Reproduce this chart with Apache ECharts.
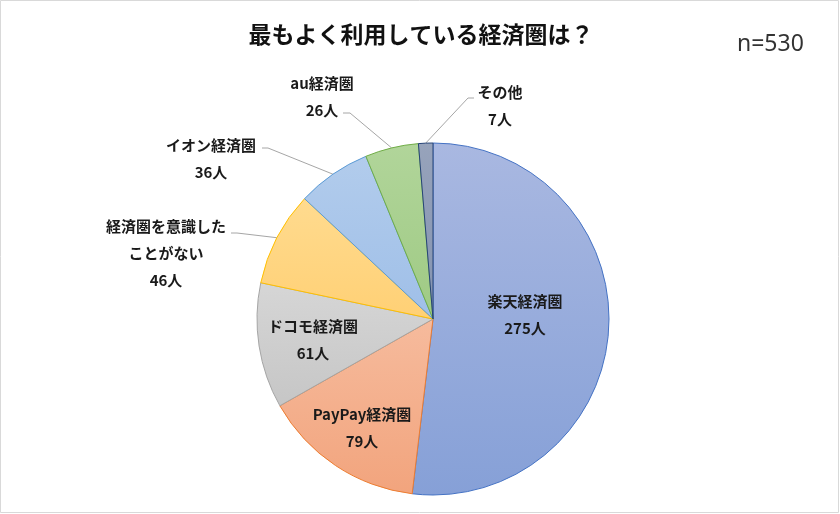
<!DOCTYPE html>
<html><head><meta charset="utf-8">
<script src="https://cdn.jsdelivr.net/npm/echarts@6/dist/echarts.min.js"></script>
<style>html,body{margin:0;padding:0;background:#fff}#c{width:840px;height:514px}</style>
</head><body><div id="c"></div>
<script>
const categories = ['楽天経済圏','PayPay経済圏','ドコモ経済圏','経済圏を意識した\nことがない','イオン経済圏','au経済圏','その他'];
const counts = [275, 79, 61, 46, 36, 26, 7];
const titleText = '最もよく利用している経済圏は？';
const noteText = 'n=530';

// styles
const fillTop    = ['#a9b8e1','#f6bb9d','#d6d6d6','#ffdb8f','#b2ccec','#b1d59a','#97a3bb'];
const fillBottom = ['#86a0d7','#f2a47d','#c6c6c6','#ffd075','#9fbfe8','#9fca84','#8493b0'];
const borders    = ['#4472c4','#ed7d31','#a5a5a5','#ffc000','#5b9bd5','#70ad47','#264478'];
const labelXY    = [[525,315],[362,428],[313,340],[166,253],[211,159],[322,97],[500,106]];
// leader line: [bend point, label-end point] (edge point comes from the pie layout)
const leaderPts  = [null,null,null,[[237,233],[231,233]],[[268,148],[262,148]],[[350,113],[343,113]],[[468,98],[474,98]]];
const outside    = [false,false,false,true,true,true,true];

const data = categories.map((n,i)=>({
  name:n, value:counts[i],
  itemStyle:{
    color:new echarts.graphic.LinearGradient(0,0,0,1,[{offset:0,color:fillTop[i]},{offset:1,color:fillBottom[i]}]),
    borderColor:borders[i], borderWidth:1
  },
  label:{position: outside[i] ? 'outside' : 'inside'},
  labelLine:{show: outside[i]}
}));

const chart = echarts.init(document.getElementById('c'), null, {renderer:'canvas'});
chart.setOption({
  animation:false,
  backgroundColor:'#fff',
  graphic:[{type:'rect',shape:{x:0.5,y:0.5,width:838,height:512},style:{fill:'none',stroke:'#d9d9d9',lineWidth:1},z:-1}],
  title:[
    {text:titleText,left:416,top:18,textAlign:'center',textStyle:{fontSize:23,fontWeight:'bold',color:'#111',fontFamily:'Noto Sans CJK JP'}},
    {text:noteText,left:732,top:28,textStyle:{fontSize:23,fontWeight:'normal',color:'#333',fontFamily:'Noto Sans'}}
  ],
  series:[{
    type:'pie',
    center:[433,319],
    radius:176,
    startAngle:90,
    clockwise:true,
    data:data,
    label:{
      formatter:'{b}\n{c}人',
      fontSize:15, fontWeight:'bold', color:'#1a1a1a', lineHeight:27,
      fontFamily:'Noto Sans CJK JP', align:'center'
    },
    labelLine:{lineStyle:{color:'#a6a6a6',width:1},length:10,length2:6},
    labelLayout:function(p){
      const i = p.dataIndex;
      const xy = labelXY[i];
      const r = {x:xy[0], y:xy[1], align:'center', verticalAlign:'middle'};
      if (leaderPts[i] && p.labelLinePoints) {
        r.labelLinePoints = [p.labelLinePoints[0], leaderPts[i][0], leaderPts[i][1]];
      }
      return r;
    }
  }]
});
</script></body></html>
